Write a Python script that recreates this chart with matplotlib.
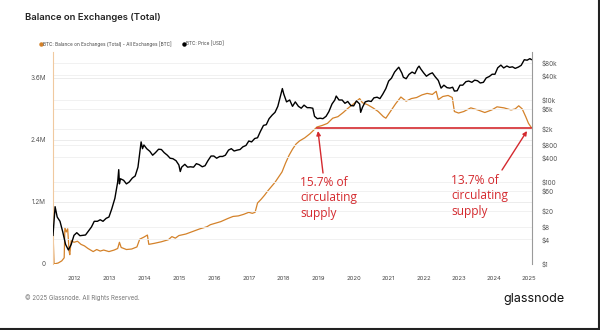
import matplotlib
matplotlib.use("Agg")
import matplotlib.pyplot as plt
from matplotlib.lines import Line2D
import numpy as np

# ---------------- data ----------------
balance_t = [2011.38, 2011.41, 2011.43, 2011.55, 2011.65, 2011.72, 2011.74, 2011.78, 2011.82, 2011.86,
             2011.88, 2011.92, 2012.00, 2012.10, 2012.20, 2012.30, 2012.40, 2012.55, 2012.65, 2012.75,
             2012.85, 2013.00, 2013.15, 2013.25, 2013.30, 2013.35, 2013.50, 2013.65, 2013.80, 2013.88,
             2014.00, 2014.10, 2014.14, 2014.30, 2014.50, 2014.70, 2014.80, 2014.90, 2015.00, 2015.20,
             2015.40, 2015.60, 2015.80, 2015.90, 2016.00, 2016.20, 2016.40, 2016.55, 2016.70, 2016.85,
             2017.00, 2017.10, 2017.18, 2017.25, 2017.35, 2017.45, 2017.55, 2017.65, 2017.75, 2017.85,
             2017.95, 2018.05, 2018.15, 2018.25, 2018.35, 2018.45, 2018.60, 2018.75, 2018.95, 2019.10,
             2019.25, 2019.40, 2019.55, 2019.70, 2019.85, 2020.00, 2020.17, 2020.25, 2020.40, 2020.55,
             2020.70, 2020.85, 2020.92, 2021.05, 2021.20, 2021.35, 2021.50, 2021.65, 2021.80, 2021.95,
             2022.10, 2022.25, 2022.36, 2022.42, 2022.55, 2022.70, 2022.82, 2022.88, 2023.00, 2023.15,
             2023.35, 2023.55, 2023.75, 2023.95, 2024.10, 2024.30, 2024.50, 2024.62, 2024.72, 2024.82,
             2024.92, 2025.00, 2025.08]
balance_m = [0.00, 0.42, 0.00, 0.02, 0.06, 0.12, 0.70, 0.62, 0.68, 0.25,
             0.18, 0.45, 0.42, 0.44, 0.38, 0.35, 0.30, 0.24, 0.28, 0.25,
             0.27, 0.24, 0.27, 0.30, 0.42, 0.32, 0.28, 0.29, 0.33, 0.48,
             0.52, 0.56, 0.38, 0.40, 0.43, 0.47, 0.53, 0.50, 0.55, 0.58,
             0.63, 0.68, 0.72, 0.76, 0.78, 0.82, 0.88, 0.92, 0.93, 0.96,
             1.00, 0.98, 1.00, 1.18, 1.25, 1.33, 1.42, 1.50, 1.58, 1.68,
             1.78, 1.95, 2.10, 2.22, 2.32, 2.38, 2.44, 2.52, 2.65, 2.68,
             2.72, 2.82, 2.85, 2.93, 3.02, 3.10, 3.20, 3.12, 3.08, 3.02,
             2.95, 2.85, 2.82, 2.95, 3.10, 3.23, 3.15, 3.20, 3.22, 3.27,
             3.30, 3.28, 3.34, 3.18, 3.24, 3.26, 3.22, 2.95, 2.92, 2.95,
             3.02, 2.98, 2.93, 2.98, 3.04, 3.02, 2.98, 3.00, 3.06, 3.00,
             2.85, 2.72, 2.64]

price_t = [2011.40, 2011.46, 2011.52, 2011.60, 2011.68, 2011.76, 2011.84, 2011.92,
           2012.00, 2012.08, 2012.17, 2012.25, 2012.33, 2012.42, 2012.50, 2012.58, 2012.67, 2012.75, 2012.83, 2012.92,
           2013.00, 2013.08, 2013.17, 2013.25, 2013.28, 2013.30, 2013.33, 2013.42, 2013.50, 2013.58, 2013.67, 2013.75,
           2013.83, 2013.92, 2013.96,
           2014.00, 2014.08, 2014.17, 2014.25, 2014.33, 2014.42, 2014.50, 2014.58, 2014.67, 2014.75, 2014.83, 2014.92,
           2015.00, 2015.04, 2015.08, 2015.17, 2015.25, 2015.33, 2015.42, 2015.50, 2015.58, 2015.67, 2015.75, 2015.83, 2015.92,
           2016.00, 2016.08, 2016.17, 2016.25, 2016.33, 2016.42, 2016.50, 2016.58, 2016.67, 2016.75, 2016.83, 2016.92,
           2017.00, 2017.08, 2017.17, 2017.25, 2017.33, 2017.42, 2017.50, 2017.58, 2017.67, 2017.75, 2017.83, 2017.92, 2017.96,
           2018.00, 2018.08, 2018.17, 2018.25, 2018.33, 2018.42, 2018.50, 2018.58, 2018.67, 2018.75, 2018.83, 2018.88, 2018.96,
           2019.04, 2019.12, 2019.21, 2019.29, 2019.38, 2019.46, 2019.50, 2019.58, 2019.67, 2019.75, 2019.83, 2019.92,
           2020.00, 2020.08, 2020.17, 2020.20, 2020.25, 2020.33, 2020.42, 2020.50, 2020.58, 2020.67, 2020.75, 2020.83, 2020.92,
           2021.00, 2021.08, 2021.17, 2021.25, 2021.29, 2021.38, 2021.42, 2021.50, 2021.58, 2021.67, 2021.75, 2021.83, 2021.87, 2021.92,
           2022.00, 2022.08, 2022.17, 2022.25, 2022.33, 2022.42, 2022.50, 2022.58, 2022.67, 2022.75, 2022.83, 2022.88, 2022.96,
           2023.04, 2023.12, 2023.21, 2023.29, 2023.38, 2023.46, 2023.54, 2023.62, 2023.71, 2023.79, 2023.88, 2023.96,
           2024.04, 2024.12, 2024.21, 2024.29, 2024.38, 2024.46, 2024.54, 2024.62, 2024.71, 2024.79, 2024.88, 2024.96,
           2025.04, 2025.08]
price_usd = [5, 25, 14, 11, 6, 3, 2.2, 3,
             5, 5.8, 4.9, 5, 5.1, 6.5, 8, 11, 11, 12, 11, 13,
             14, 22, 40, 100, 200, 90, 120, 110, 90, 100, 125, 140,
             230, 950, 650,
             800, 650, 560, 450, 520, 630, 620, 520, 450, 380, 370, 330,
             260, 180, 230, 270, 230, 235, 230, 280, 265, 235, 250, 330, 430,
             430, 380, 420, 420, 450, 600, 650, 570, 600, 620, 720, 780,
             1000, 950, 1150, 1200, 1700, 2400, 2500, 3500, 4300, 5000, 7000, 14000, 19000,
             14000, 9000, 10000, 7000, 9000, 7000, 6300, 7500, 6500, 6500, 6300, 4000, 3500,
             3600, 3500, 4000, 5200, 8000, 10000, 12500, 10000, 10000, 8300, 9200, 7300,
             7200, 9500, 8000, 5000, 6600, 9000, 9500, 9200, 11300, 11700, 10800, 13800, 19000,
             29000, 34000, 48000, 58000, 63000, 45000, 36000, 33000, 42000, 48000, 44000, 61000, 67000, 57000,
             46000, 38000, 43000, 46000, 37000, 30000, 19500, 23000, 20000, 19500, 20500, 16500, 16800,
             23000, 23000, 28000, 29000, 27000, 30500, 29500, 26000, 27000, 34500, 37500, 42500,
             42500, 61000, 71000, 60500, 67500, 62500, 64500, 59000, 63500, 70000, 96000, 93500,
             102000, 97000]

left_ticks = [0, 1.2, 2.4, 3.6]
left_labels = ["0", "1.2M", "2.4M", "3.6M"]
right_ticks = [1, 4, 8, 20, 60, 100, 400, 800, 2000, 6000, 10000, 40000, 80000]
right_labels = ["$1", "$4", "$8", "$20", "$60", "$100", "$400", "$800", "$2k", "$6k", "$10k", "$40k", "$80k"]
years = list(range(2012, 2026))

ref_level = 2.64          # reference balance level (M BTC)
ref_start, ref_end = 2018.95, 2025.08

ORANGE = "#d4822a"
RED = "#d42a2f"
FONT = ["Inter", "DejaVu Sans"]

# ---------------- figure ----------------
fig = plt.figure(figsize=(6.0, 3.3), dpi=100)
fig.patch.set_facecolor("white")
ax = fig.add_axes([53/600, 1-264/330, (532-53)/600, (264-52)/330])
ax2 = ax.twinx()

ax.set_xlim(2011.4, 2025.1)
ax.set_ylim(0, (264-52)/51.7)
ax2.set_yscale("log")
ax2.set_ylim(1, 10**((264-52)/41.0))

# grid lines
for v in right_ticks:
    ax2.axhline(v, color="#efefef", lw=0.6, zorder=0)
for v in left_ticks:
    ax.axhline(v, color="#e9e9e9", lw=0.6, zorder=0)

ax.plot(balance_t, balance_m, color=ORANGE, lw=0.9, zorder=3)
ax2.plot(price_t, price_usd, color="black", lw=1.0, zorder=4)

# reference line (drawn on top axes so it sits above the price line)
ref_axes = fig.add_axes(ax.get_position(), sharex=ax, frameon=False)
ref_axes.set_ylim(ax.get_ylim())
ref_axes.axis("off")
ref_axes.plot([ref_start, ref_end], [ref_level, ref_level], color=RED, lw=1.2, zorder=5)

# axes styling
ax.set_xticks(years)
ax.set_xticklabels([str(y) for y in years], fontsize=4.3, color="#444", family=FONT)
ax.set_yticks(left_ticks)
ax.set_yticklabels(left_labels, fontsize=4.6, color="#555", family=FONT)
ax2.set_yticks(right_ticks)
ax2.set_yticklabels(right_labels, fontsize=4.6, color="#555", family=FONT)
ax2.yaxis.set_minor_locator(matplotlib.ticker.NullLocator())
ax.tick_params(axis="y", length=0, pad=5)
ax.tick_params(axis="x", length=0, pad=9)
ax2.tick_params(axis="y", length=0, pad=7)
for a in (ax, ax2):
    a.spines["top"].set_visible(False)
    a.spines["bottom"].set_visible(False)
ax.spines["right"].set_visible(False)
ax.spines["left"].set_visible(False)
ax2.spines["left"].set_color("#f0c9a0")
ax2.spines["left"].set_linewidth(0.8)
ax2.spines["right"].set_color("#9a9a9a")
ax2.spines["right"].set_linewidth(0.8)

# annotation texts
for (x, y, s) in [(300, 176, "15.7% of\ncirculating\nsupply"),
                  (451, 174, "13.7% of\ncirculating\nsupply")]:
    fig.text(x/600, 1-y/330, s, color=RED, fontsize=8.6,
             family=["Open Sans", "DejaVu Sans"], va="top", ha="left", linespacing=1.25)

# arrows in figure coords
def farrow(x0, y0, x1, y1):
    ref_axes.annotate("", xy=(x1/600, 1-y1/330), xytext=(x0/600, 1-y0/330),
                      xycoords="figure fraction", textcoords="figure fraction",
                      arrowprops=dict(arrowstyle="-|>", color=RED, lw=1.0, mutation_scale=6,
                                      shrinkA=0, shrinkB=0))
farrow(323, 173, 318, 131)
farrow(502, 170, 527, 131)

# title, legend, footer
fig.text(25/600, 1-18/330, "Balance on Exchanges (Total)", fontsize=6.8, fontweight="semibold",
         family=FONT, color="#222", va="center", ha="left")
fig.add_artist(Line2D([40.5/600], [1-44/330], marker="o", ms=2.2, color=ORANGE, lw=0))
fig.text(43/600, 1-44/330, "BTC: Balance on Exchanges (Total) - All Exchanges [BTC]", fontsize=3.4,
         family=FONT, color="#444", va="center", ha="left")
fig.add_artist(Line2D([184/600], [1-44/330], marker="o", ms=2.2, color="black", lw=0))
fig.text(186.5/600, 1-44/330, "BTC: Price [USD]", fontsize=3.4,
         family=FONT, color="#444", va="center", ha="left")
fig.text(25/600, 1-298/330, "© 2025 Glassnode. All Rights Reserved.", fontsize=4.4,
         family=FONT, color="#777", va="center", ha="left")
fig.text(503/600, 1-299/330, "glassnode", fontsize=9, family=FONT, color="#111",
         va="center", ha="left")

# screenshot frame edges
fig.add_artist(Line2D([0.998, 0.998], [0, 1], color="#222", lw=1.5))
fig.add_artist(Line2D([0, 1], [0.003, 0.003], color="#222", lw=1.5))

fig.savefig("out.png", dpi=100, facecolor="white")
